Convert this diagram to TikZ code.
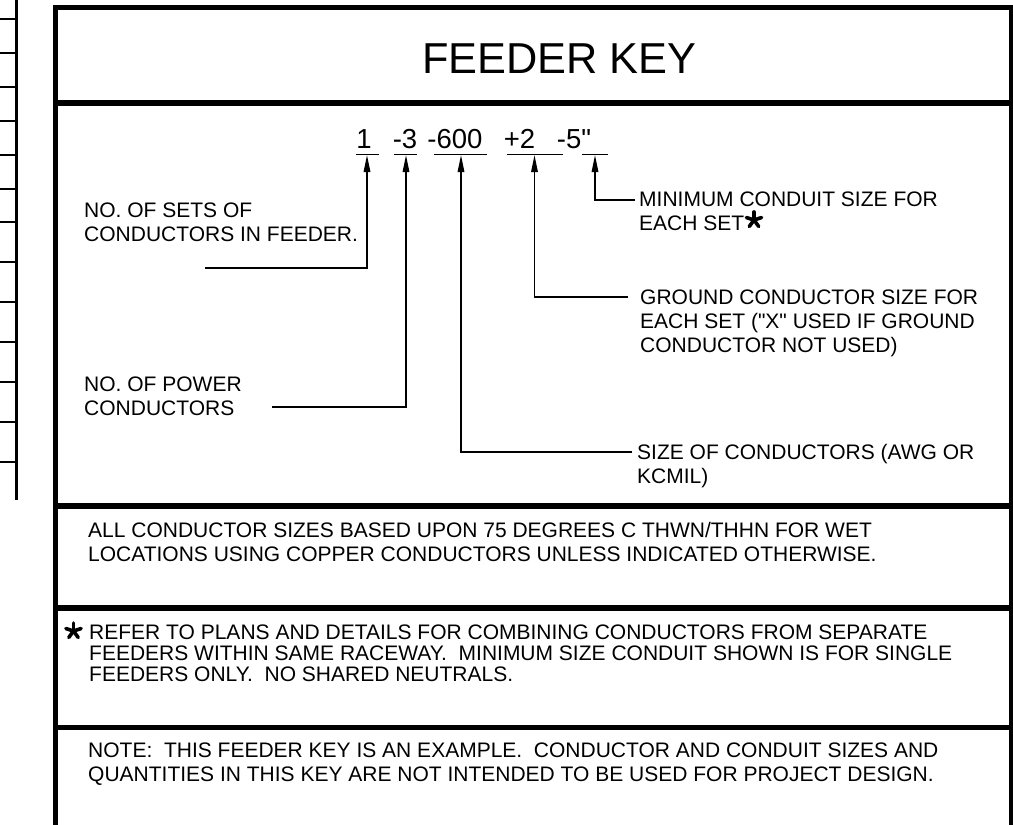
\documentclass[tikz,border=0pt]{standalone}
\usepackage{fontspec}
\setmainfont{Liberation Sans}[Ligatures=TeXOff]
\usetikzlibrary{arrows.meta}
\begin{document}
\begin{tikzpicture}[x=1pt,y=-1pt,
  txt/.style={anchor=base west,inner sep=0pt,font=\fontsize{21}{24}\selectfont},
  num/.style={anchor=base,inner sep=0pt,font=\fontsize{27.5}{30}\selectfont},
  frame/.style={line width=5pt},
  strip/.style={line width=1.8pt},
  lead/.style={line width=1.6pt},
  arr/.style={lead,-{Triangle[length=17pt,width=6.5pt]}},
  ast/.style={line width=3.6pt,line cap=round}]
\useasboundingbox (0,0) rectangle (1013,825);
% left strip
\draw[line width=2.5pt] (16.5,0) -- (16.5,500);
\foreach \yy in {19,53,87,121,155,189,222,262,302,342,382,422,462}
  \draw[strip] (0,\yy) -- (16.5,\yy);
% main frame
\draw[frame] (55.5,825) -- (55.5,7.5) -- (1010.5,7.5);
\draw[line width=4pt] (1010.5,5) -- (1010.5,825);
\draw[line width=5.5pt] (55.5,103) -- (1010.5,103);
\draw[line width=6pt] (55.5,506) -- (1010.5,506);
\draw[line width=6pt] (55.5,608) -- (1010.5,608);
\draw[line width=5pt] (55.5,727) -- (1010.5,727);
% title
\node[anchor=base,inner sep=0pt,font=\fontsize{43.3}{46}\selectfont] (title) at (559.5,73.5) {FEEDER KEY};
% key numbers
\node[num] (n1) at (364,148) {1};
\node[num] (n2) at (405,148) {-3};
\node[num] (n3) at (455,148) {-600};
\node[num] (n4) at (519.5,148) {+2};
\node[num] (n5) at (574,148) {-5"};
% underlines
\draw[lead] (356,154.5) -- (379,154.5);
\draw[lead] (394,154.5) -- (417,154.5);
\draw[lead] (434,154.5) -- (487,154.5);
\draw[lead] (507,154.5) -- (563,154.5);
\draw[lead] (582,154.5) -- (608,154.5);
\coordinate (t1) at (367,155);
\coordinate (t2) at (406,155);
\coordinate (t3) at (461,155);
\coordinate (t4) at (534.5,155);
\coordinate (t5) at (595,155);
\coordinate (s1) at (205,268);
\coordinate (s2) at (272,407);
\coordinate (s3) at (632,452);
\coordinate (s4) at (628,297);
\coordinate (s5) at (635,200);
\draw[arr] (s1) -| (t1);
\draw[arr] (s2) -| (t2);
\draw[arr] (s3) -| (t3);
\draw[arr] (s4) -| (t4);
\draw[arr] (s5) -| (t5);
% labels
\node[txt] (a1) at (84,217.5) {NO. OF SETS OF};
\node[txt] (a2) at (84,241.5) {CONDUCTORS IN FEEDER.};
\node[txt] (b1) at (84,391) {NO. OF POWER};
\node[txt] (b2) at (84,415) {CONDUCTORS};
\node[txt] (c1) at (639,206.5) {MINIMUM CONDUIT SIZE FOR};
\node[txt] (c2) at (639,230.5) {EACH SET};
\node[txt] (d1) at (640,304.5) {GROUND CONDUCTOR SIZE FOR};
\node[txt] (d2) at (640,328.5) {EACH SET ("X" USED IF GROUND};
\node[txt] (d3) at (640,352.5) {CONDUCTOR NOT USED)};
\node[txt] (e1) at (637,459.5) {SIZE OF CONDUCTORS (AWG OR};
\node[txt] (e2) at (637,483.5) {KCMIL)};
\node[txt] (f1) at (88,537) {ALL CONDUCTOR SIZES BASED UPON 75 DEGREES C THWN/THHN FOR WET};
\node[txt] (f2) at (88,561) {LOCATIONS USING COPPER CONDUCTORS UNLESS INDICATED OTHERWISE.};
\node[txt] (g1) at (89,639) {REFER TO PLANS AND DETAILS FOR COMBINING CONDUCTORS FROM SEPARATE};
\node[txt] (g2) at (89,660) {FEEDERS WITHIN SAME RACEWAY.\ \ MINIMUM SIZE CONDUIT SHOWN IS FOR SINGLE};
\node[txt] (g3) at (89,681) {FEEDERS ONLY.\ \ NO SHARED NEUTRALS.};
\node[txt] (h1) at (88,757.5) {NOTE:\ \ THIS FEEDER KEY IS AN EXAMPLE.\ \ CONDUCTOR AND CONDUIT SIZES AND};
\node[txt] (h2) at (88,781.5) {QUANTITIES IN THIS KEY ARE NOT INTENDED TO BE USED FOR PROJECT DESIGN.};
% asterisks
\coordinate (ast1) at (754,220);
\coordinate (ast2) at (73.5,631);
\foreach \c in {ast1,ast2}
  \foreach \a in {-90,-18,54,126,198}
    \draw[ast] (\c) -- ++(\a:8);
\end{tikzpicture}
\end{document}
